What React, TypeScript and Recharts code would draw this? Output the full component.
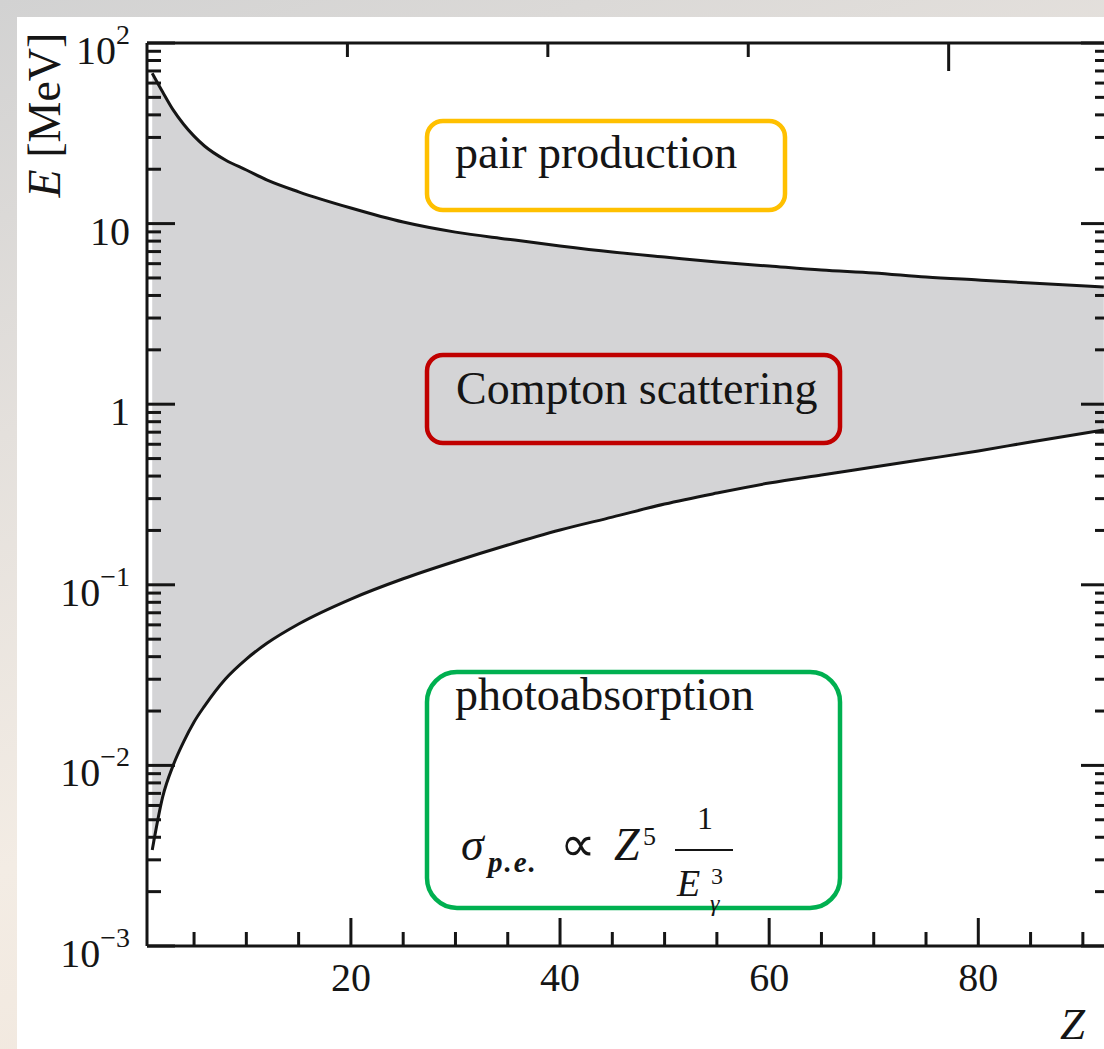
import React from 'react';
import { ComposedChart, Area, Line, XAxis, YAxis } from 'recharts';

// atomic number Z and the energies (MeV) where the dominant process changes
const zValues = [1, 2, 3, 4, 5, 6, 8, 10, 12, 15, 20, 25, 30, 35, 40, 45, 50, 55, 60, 65, 70, 75, 80, 85, 92];
// Compton -> pair production boundary
const pairThreshold = [68, 53.5, 42.6, 35.5, 30.5, 26.9, 22.5, 19.8, 17.4, 15.0, 12.2, 10.2, 8.97, 8.2, 7.52, 6.96, 6.53, 6.13, 5.82, 5.53, 5.33, 5.06, 4.87, 4.69, 4.46];
// photoabsorption -> Compton boundary
const photoThreshold = [0.0034, 0.0067, 0.01, 0.0135, 0.0174, 0.0213, 0.0301, 0.0388, 0.0476, 0.0607, 0.0834, 0.108, 0.135, 0.166, 0.201, 0.237, 0.28, 0.322, 0.366, 0.406, 0.449, 0.497, 0.551, 0.618, 0.72];

const xTicks = [5, 10, 15, 20, 25, 30, 35, 40, 45, 50, 55, 60, 65, 70, 75, 80, 85, 90];
const xMajor = [20, 40, 60, 80];
const decades = [0.001, 0.01, 0.1, 1, 10];
const mantissas = [1, 2, 3, 4, 5, 6, 7, 8, 9];
const yTicks = [...decades.flatMap((d) => mantissas.map((m) => +(m * d).toPrecision(3))), 100];

const SERIF = '"Liberation Serif", "Times New Roman", serif';
const INK = '#151515';
const BAND = '#d4d4d6';

const chartData = zValues.map((z, i) => ({
  z,
  pair: pairThreshold[i],
  photo: photoThreshold[i],
  band: [photoThreshold[i], pairThreshold[i]],
}));

const isDecade = (v: number) => {
  const e = Math.round(Math.log10(v));
  return Math.abs(v - Math.pow(10, e)) < 1e-9 * v;
};

const BottomTick = ({ x, y, payload }: any) => {
  const major = xMajor.includes(payload.value);
  return (
    <g>
      <line x1={x} x2={x} y1={y} y2={y - (major ? 28 : 14)} stroke={INK} strokeWidth={3} />
      {major && (
        <text x={x} y={y + 45} textAnchor="middle" fontSize={40} fontFamily={SERIF} fill={INK}>
          {payload.value}
        </text>
      )}
    </g>
  );
};

const TopTick = ({ x, y, payload }: any) => {
  const major = xMajor.includes(payload.value);
  return <line x1={x} x2={x} y1={y} y2={y + (major ? 28 : 14)} stroke={INK} strokeWidth={3} />;
};

const LeftTick = ({ x, y, payload }: any) => {
  const v = payload.value;
  const major = isDecade(v);
  const exp = Math.round(Math.log10(v));
  let label: React.ReactNode = null;
  if (major) {
    if (exp === 0) label = '1';
    else if (exp === 1) label = '10';
    else
      label = (
        <>
          10
          <tspan fontSize={28} dy={-20}>
            {exp < 0 ? `\u2212${-exp}` : exp}
          </tspan>
        </>
      );
  }
  return (
    <g>
      <line x1={x} x2={x + (major ? 28 : 14)} y1={y} y2={y} stroke={INK} strokeWidth={3} />
      {label && (
        <text x={x - 17} y={y + 21} textAnchor="end" fontSize={40} fontFamily={SERIF} fill={INK}>
          {label}
        </text>
      )}
    </g>
  );
};

const RightTick = ({ x, y, payload }: any) => {
  const major = isDecade(payload.value);
  return <line x1={x} x2={x - (major ? 28 : 14)} y1={y} y2={y} stroke={INK} strokeWidth={3} />;
};

const axisLine = { stroke: INK, strokeWidth: 3 };

const Annotations = () => (
  <svg
    width={1104}
    height={1049}
    style={{ position: 'absolute', left: 0, top: 0, pointerEvents: 'none' }}
    fontFamily={SERIF}
    fill={INK}
  >
    {/* axis titles */}
    <text transform="translate(60,115) rotate(-90)" textAnchor="middle" fontSize={46}>
      <tspan fontStyle="italic">E</tspan> [MeV]
    </text>
    <text x={1060} y={1039} fontSize={45} fontStyle="italic">
      Z
    </text>

    {/* region boxes */}
    <rect x={427} y={121} width={358} height={89} rx={16} fill="none" stroke="#ffc000" strokeWidth={4.5} />
    <text x={455} y={168} fontSize={46}>pair production</text>

    <rect x={427} y={355} width={413} height={88} rx={16} fill="none" stroke="#c00000" strokeWidth={4.5} />
    <text x={456} y={404} fontSize={46}>Compton scattering</text>

    <rect x={427} y={672} width={413} height={236} rx={30} fill="none" stroke="#00b050" strokeWidth={4.5} />
    <text x={455} y={710} fontSize={46}>photoabsorption</text>

    {/* sigma_pe ∝ Z^5 / E_gamma^3 */}
    <text x={461} y={860} fontSize={46} fontStyle="italic">σ</text>
    <text x={488} y={872} fontSize={29} fontStyle="italic" fontWeight="bold" letterSpacing={2}>p.e.</text>
    <text x={560} y={861} fontSize={50}>∝</text>
    <text x={614} y={860} fontSize={46} fontStyle="italic">Z</text>
    <text x={643} y={845} fontSize={26}>5</text>
    <text x={705} y={829} fontSize={32} textAnchor="middle">1</text>
    <line x1={675} x2={733} y1={850} y2={850} stroke={INK} strokeWidth={2} />
    <text x={677} y={896} fontSize={38} fontStyle="italic">E</text>
    <text x={711} y={884} fontSize={24}>3</text>
    <text x={710} y={911} fontSize={24} fontStyle="italic">γ</text>
  </svg>
);

export default function App() {
  return (
    <div
      style={{
        position: 'absolute',
        left: 0,
        top: 0,
        width: 1104,
        height: 1049,
        overflow: 'hidden',
        background: 'linear-gradient(160deg, #d2d2d2 0%, #e4e0dc 30%, #f3ece4 60%, #efe3d7 100%)',
      }}
    >
      <div style={{ position: 'absolute', left: 17, top: 17, width: 1087, height: 1032, background: '#fff' }} />
      <div style={{ position: 'absolute', left: 0, top: 0 }}>
        <ComposedChart width={1120} height={1049} data={chartData} margin={{ top: 0, right: 10, bottom: 0, left: 0 }}>
          <XAxis
            xAxisId="bottom"
            dataKey="z"
            type="number"
            domain={[0.5, 92.5]}
            allowDataOverflow
            ticks={xTicks}
            interval={0}
            height={103}
            tickSize={0}
            tickMargin={0}
            tickLine={false}
            axisLine={axisLine}
            tick={<BottomTick />}
          />
          <XAxis
            xAxisId="top"
            orientation="top"
            type="number"
            domain={[0.5, 92.5]}
            allowDataOverflow
            ticks={xTicks}
            interval={0}
            height={43}
            tickSize={0}
            tickMargin={0}
            tickLine={false}
            axisLine={axisLine}
            tick={<TopTick />}
          />
          <YAxis
            yAxisId="left"
            type="number"
            scale="log"
            domain={[0.001, 100]}
            allowDataOverflow
            ticks={yTicks}
            interval={0}
            width={147}
            tickSize={0}
            tickMargin={0}
            tickLine={false}
            axisLine={axisLine}
            tick={<LeftTick />}
          />
          <YAxis
            yAxisId="right"
            orientation="right"
            type="number"
            scale="log"
            domain={[0.001, 100]}
            allowDataOverflow
            ticks={yTicks}
            interval={0}
            width={1}
            tickSize={0}
            tickMargin={0}
            tickLine={false}
            axisLine={axisLine}
            tick={<RightTick />}
          />
          <Area
            xAxisId="bottom"
            yAxisId="left"
            type="monotone"
            dataKey="band"
            fill={BAND}
            fillOpacity={1}
            stroke="none"
            isAnimationActive={false}
          />
          <Line
            xAxisId="bottom"
            yAxisId="left"
            type="monotone"
            dataKey="pair"
            stroke={INK}
            strokeWidth={3}
            dot={false}
            isAnimationActive={false}
          />
          <Line
            xAxisId="bottom"
            yAxisId="left"
            type="monotone"
            dataKey="photo"
            stroke={INK}
            strokeWidth={3}
            dot={false}
            isAnimationActive={false}
          />
        </ComposedChart>
      </div>
      <Annotations />
    </div>
  );
}
